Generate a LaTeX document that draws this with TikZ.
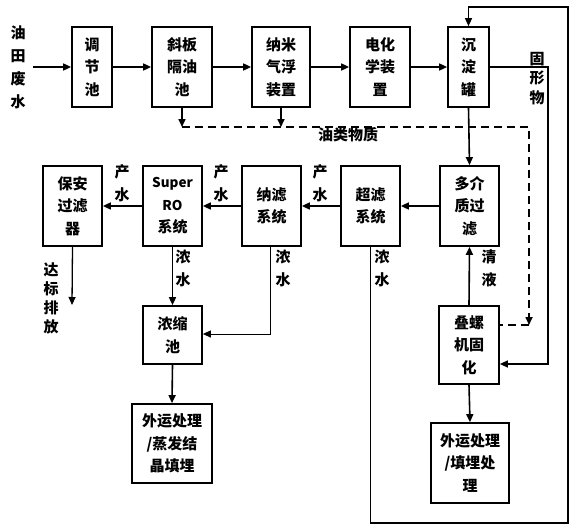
\documentclass[tikz,border=0pt]{standalone}
\usepackage{fontspec}
\newfontfamily\cjk{Noto Sans CJK SC}
\usetikzlibrary{arrows.meta}
\tikzset{
  box/.style={draw, line width=1.7pt, align=center, inner sep=0pt,
    font=\cjk\bfseries\fontsize{15}{22.5}\selectfont},
  lab/.style={align=center, inner sep=0pt,
    font=\cjk\bfseries\fontsize{15}{23}\selectfont},
  labs/.style={align=center, inner sep=0pt,
    font=\cjk\bfseries\fontsize{15}{19.2}\selectfont},
  arr/.style={line width=1.6pt, -{Triangle[length=8pt,width=7pt]}},
  thinarr/.style={line width=1.3pt, -{Triangle[length=8pt,width=7pt]}},
  thinline/.style={line width=1pt},
  oilline/.style={line width=1.6pt, dash pattern=on 8pt off 5pt},
}
\newcommand\latinpart[1]{{\fontsize{13.5}{22.5}\selectfont #1}}
\begin{document}
\begin{tikzpicture}[x=1pt,y=-1pt]
\useasboundingbox (0,0) rectangle (575,530);
% top row
\node[box, minimum width=40pt, minimum height=80pt] (tj) at (92,67) {调\\节\\池};
\node[box, minimum width=60pt, minimum height=80pt] (xb) at (182,67) {斜板\\隔油\\池};
\node[box, minimum width=58pt, minimum height=80pt] (nm) at (281,67) {纳米\\气浮\\装置};
\node[box, minimum width=60pt, minimum height=80pt] (dh) at (380,67) {电化\\学装\\置};
\node[box, minimum width=41pt, minimum height=80pt] (cd) at (468.5,67) {沉\\淀\\罐};
% middle row
\node[box, minimum width=59pt, minimum height=80pt] (dj) at (469.5,206) {多介\\质过\\滤};
\node[box, minimum width=59pt, minimum height=80pt] (cl) at (370.5,206) {超滤\\系统};
\node[box, minimum width=59pt, minimum height=80pt] (nl) at (271.5,206) {纳滤\\系统};
\node[box, minimum width=59pt, minimum height=80pt] (ro) at (172.5,206) {\latinpart{Super}\\\latinpart{RO}\\系统};
\node[box, minimum width=59pt, minimum height=80pt] (ba) at (72.5,206) {保安\\过滤\\器};
% lower
\node[box, minimum width=59pt, minimum height=58pt] (ns) at (172.5,335) {浓缩\\池};
\node[box, minimum width=80pt, minimum height=79pt] (wy1) at (172,443.5) {外运处理\\/蒸发结\\晶填埋};
\node[box, minimum width=60pt, minimum height=78pt] (dl) at (469,345) {叠螺\\机固\\化};
\node[box, minimum width=78pt, minimum height=80pt] (wy2) at (470,463) {外运处理\\/填埋处\\理};
% labels
\node[lab] (lin) at (18,67.5) {油\\田\\废\\水};
\node[lab] (loil) at (348,135) {油类物质};
\node[lab] (lp1) at (320,183.5) {产\\水};
\node[lab] (lp2) at (221,183.5) {产\\水};
\node[lab] (lp3) at (122,183.5) {产\\水};
\node[labs] (ldb) at (51,298.5) {达\\标\\排\\放};
\node[lab] (ln1) at (183,268.5) {浓\\水};
\node[lab] (ln2) at (283,268.5) {浓\\水};
\node[lab] (ln3) at (382,268.5) {浓\\水};
\node[lab] (lqy) at (489,268.5) {清\\液};
\node[labs] (lgx) at (537,78.5) {固\\形\\物};
% coordinates
\coordinate (in) at (33,67);
\coordinate (o1) at (182,127);
\coordinate (o2) at (281,127);
\coordinate (o3) at (529,127);
\coordinate (o4) at (529,325);
\coordinate (out) at (72,305);
\coordinate (n1) at (270,334);
\coordinate (b1) at (370.5,523);
\coordinate (b2) at (568,523);
\coordinate (b3) at (568,7);
\coordinate (b4) at (468.5,7);
\coordinate (g1) at (548,67);
\coordinate (g2) at (548,364);
% top row arrows
\draw[arr] (in) -- (tj.west);
\draw[arr] (tj.east) -- (xb.west);
\draw[arr] (xb.east) -- (nm.west);
\draw[arr] (nm.east) -- (dh.west);
\draw[arr] (dh.east) -- (cd.west);
% oil
\draw[arr] (xb.south) -- (o1);
\draw[arr] (nm.south) -- (o2);
\draw[oilline, -{Triangle[length=8pt,width=7pt]}] (o1) -- (o3) -- (o4);
\draw[oilline] (o4) -- (dl.east |- o4);
% middle
\draw[arr] (cd.south) -- (dj.north);
\draw[arr] (dj.west) -- (cl.east);
\draw[arr] (cl.west) -- (nl.east);
\draw[arr] (nl.west) -- (ro.east);
\draw[arr] (ro.west) -- (ba.east);
\draw[thinarr] (ba.south) -- (out);
\draw[arr] (ro.south) -- (ns.north);
\draw[thinline, -{Triangle[length=8pt,width=7pt]}] (nl.south -| n1) -- (n1) -- (ns.east |- n1);
\draw[arr] (ns.south) -- (wy1.north);
\draw[arr] (dl.north) -- (dj.south);
\draw[arr] (dl.south) -- (wy2.north);
% big loop
\draw[line width=1.3pt, -{Triangle[length=8pt,width=7pt]}] (cl.south -| b1) -- (b1) -- (b2) -- (b3) -- (b4) -- (cd.north);
% solids
\draw[line width=1.3pt, -{Triangle[length=8pt,width=7pt]}] (cd.east) -- (g1) -- (g2) -- (dl.east |- g2);
\end{tikzpicture}
\end{document}
